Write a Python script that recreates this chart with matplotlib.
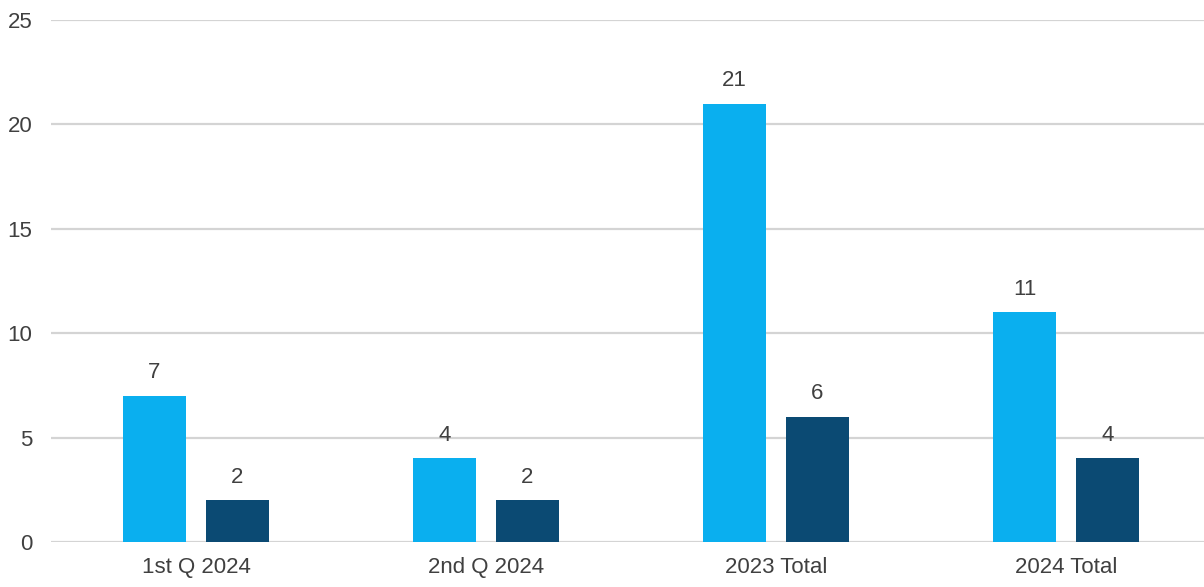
import numpy as np
import matplotlib.pyplot as plt

plt.rcParams['font.family'] = ['Liberation Sans', 'DejaVu Sans']

categories = ['1st Q 2024', '2nd Q 2024', '2023 Total', '2024 Total']
series_a = [7, 4, 21, 11]
series_b = [2, 2, 6, 4]

light_blue = '#0AAFEF'
dark_blue = '#0B4A73'
text_col = '#404040'

fig = plt.figure(figsize=(12.04, 5.87), dpi=100)
ax = fig.add_axes([51 / 1204, 45 / 587, 1 - 51 / 1204, 522 / 587])

x = np.arange(len(categories))
w = 0.22
off = 0.143
bars_a = ax.bar(x - off, series_a, w, color=light_blue, zorder=3)
bars_b = ax.bar(x + off, series_b, w, color=dark_blue, zorder=3)

# value labels above each bar
for bars, vals in [(bars_a, series_a), (bars_b, series_b)]:
    for b, v in zip(bars, vals):
        ax.annotate(str(v), (b.get_x() + b.get_width() / 2, v),
                    xytext=(0, 9), textcoords='offset points',
                    ha='center', va='bottom', fontsize=16, color=text_col)

ax.set_ylim(0, 25)
ax.set_yticks(np.arange(0, 26, 5))
ax.set_xlim(-0.5, 3.5 - 7 / 290)
ax.set_xticks(x)
ax.set_xticklabels(categories)
ax.yaxis.grid(True, color='#D4D4D4', linewidth=1.6, zorder=0)
ax.tick_params(axis='both', length=0, labelsize=16, labelcolor=text_col)
ax.tick_params(axis='y', pad=13.5)
ax.tick_params(axis='x', pad=11)
for s in ax.spines.values():
    s.set_visible(False)

fig.savefig('out.png', dpi=100)
